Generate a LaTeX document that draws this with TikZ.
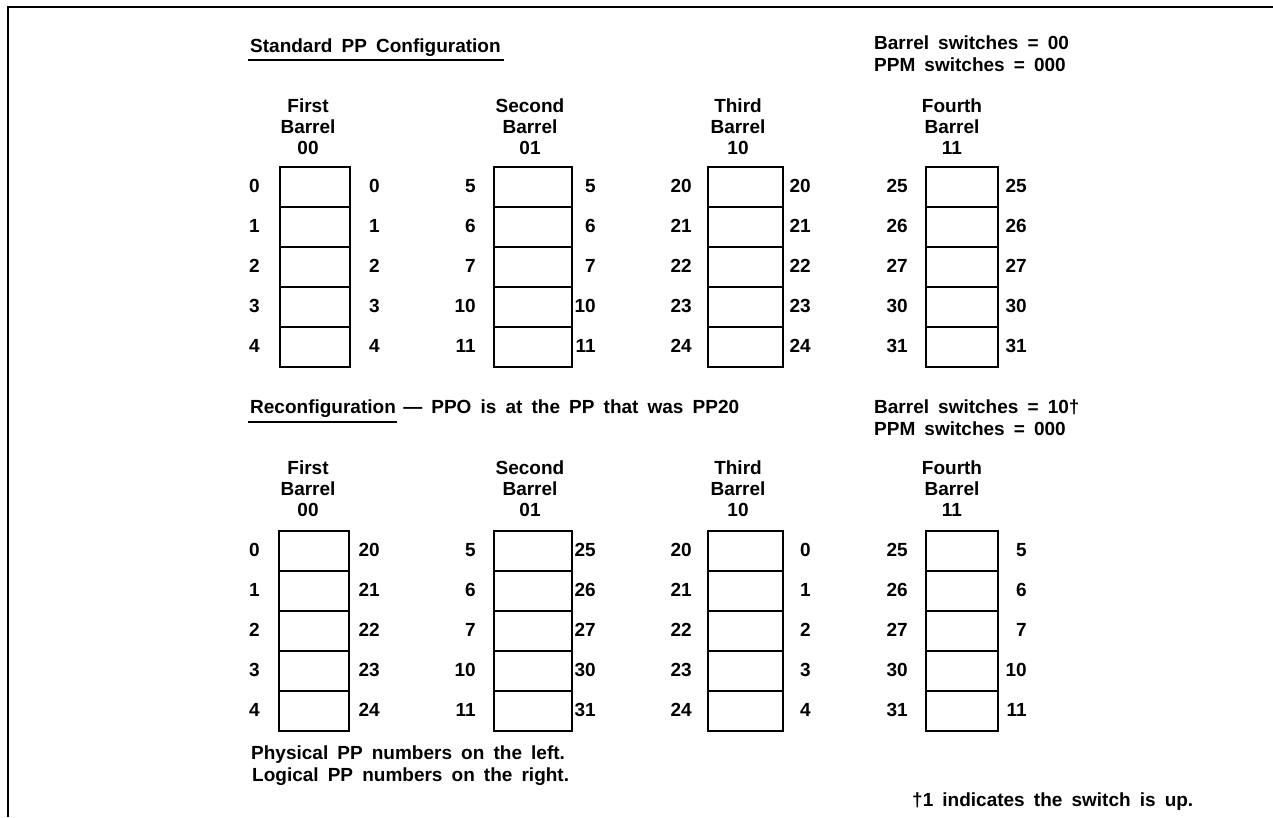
\documentclass[tikz,border=0pt]{standalone}
\usepackage{fontspec}
\setmainfont{Liberation Sans}
\newcommand\diagfont{\bfseries\fontsize{19}{22}\selectfont\spaceskip=0.48em\relax}
\begin{document}
\begin{tikzpicture}[x=1pt,y=-1pt,
  base/.style={inner sep=0pt, font=\diagfont},
  txt/.style={base, anchor=base west},
  num/.style={base, anchor=base east},
  hdr/.style={base, anchor=base},
  cell/.style={draw, line width=1.7pt, minimum width=#1, minimum height=40pt, inner sep=0pt, anchor=north west},
  rule/.style={line width=1.6pt},
  frame/.style={line width=2pt}]
\useasboundingbox (0,0) rectangle (1273,817);
% frame
\coordinate (fbl) at (8,817);
\coordinate (ftl) at (8,7);
\coordinate (ftr) at (1273,7);
\draw[frame] (fbl) -- (ftl) -- (ftr);

\newcommand\barrel[8]{%
  \foreach \a [count=\i] in {#7} {
    \node[cell=#3pt] (#1c\i) at (#2, #4+40*\i-40) {};
    \node[num] (#1l\i) at (#5, #4+40*\i-14) {\a};
  }
  \foreach \b [count=\i] in {#8} {
    \node[num] (#1r\i) at (#6, #4+40*\i-14) {\b};
  }
}
\newcommand\header[5]{%
  \node[hdr] (#1a) at (#2, #3) {#4};
  \node[hdr] (#1b) at (#2, #3+21) {Barrel};
  \node[hdr] (#1c) at (#2, #3+42) {#5};
}

% ===== Standard configuration =====
\node[txt] (t1) at (250,52) {Standard PP Configuration};
\draw[rule] ([shift={(-2pt,-8pt)}]t1.base west) -- ([shift={(3pt,-8pt)}]t1.base east);
\node[txt] (s1) at (874,49) {Barrel switches = 00};
\node[txt] (s2) at (874,71) {PPM switches = 000};

\header{ha}{308}{112}{First}{00}
\header{hb}{530}{112}{Second}{01}
\header{hc}{738}{112}{Third}{10}
\header{hd}{952}{112}{Fourth}{11}

\barrel{A}{279}{70}{166}{260}{380}{0,1,2,3,4}{0,1,2,3,4}
\barrel{B}{493}{78}{166}{476}{596}{5,6,7,10,11}{5,6,7,10,11}
\barrel{C}{707}{75}{166}{692}{811}{20,21,22,23,24}{20,21,22,23,24}
\barrel{D}{925}{72}{166}{908}{1027}{25,26,27,30,31}{25,26,27,30,31}

% ===== Reconfiguration =====
\node[txt] (t2) at (250,413) {Reconfiguration};
\draw[rule] ([shift={(-2pt,-9pt)}]t2.base west) -- ([shift={(1pt,-9pt)}]t2.base east);
\node[txt, anchor=base west] (t3) at ([xshift=7pt]t2.base east) {--- PPO is at the PP that was PP20};
\node[txt] (s3) at (874,413) {Barrel switches = 10†};
\node[txt] (s4) at (874,435) {PPM switches = 000};

\header{hA}{308}{474}{First}{00}
\header{hB}{530}{474}{Second}{01}
\header{hC}{738}{474}{Third}{10}
\header{hD}{952}{474}{Fourth}{11}

\barrel{E}{278}{70}{530}{260}{380}{0,1,2,3,4}{20,21,22,23,24}
\barrel{F}{493}{78}{530}{476}{596}{5,6,7,10,11}{25,26,27,30,31}
\barrel{G}{707}{75}{530}{692}{811}{20,21,22,23,24}{0,1,2,3,4}
\barrel{H}{925}{72}{530}{908}{1027}{25,26,27,30,31}{5,6,7,10,11}

\node[txt] (n1) at (251,759) {Physical PP numbers on the left.};
\node[txt] (n2) at (252,781) {Logical PP numbers on the right.};
\node[txt] (n3) at (912,806) {†1 indicates the switch is up.};
\end{tikzpicture}
\end{document}
